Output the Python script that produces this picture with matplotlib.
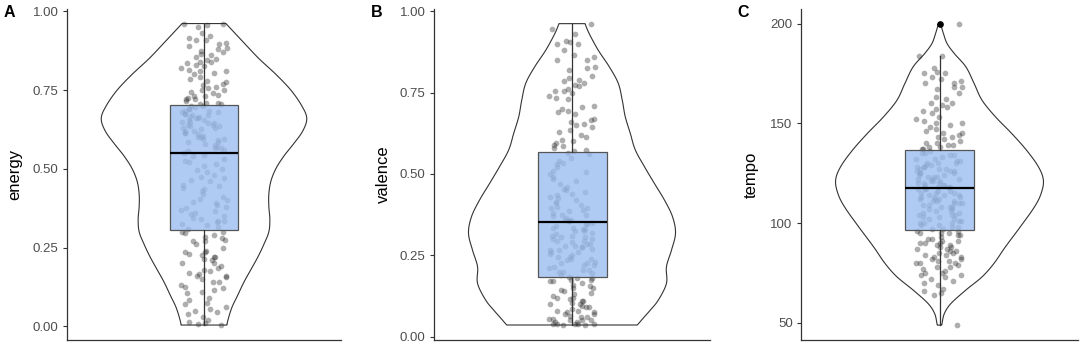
import matplotlib
matplotlib.use('Agg')
import matplotlib.pyplot as plt
import numpy as np

plt.rcParams['font.family'] = ['Liberation Sans', 'DejaVu Sans']

# ---- panel A: energy ----
energy_above = [0.96, 0.96, 0.955, 0.95, 0.93, 0.92, 0.915, 0.91, 0.91, 0.90, 0.895, 0.89,
                0.885, 0.88, 0.875, 0.87, 0.865, 0.86, 0.855, 0.85, 0.845, 0.84, 0.84, 0.835,
                0.83, 0.825, 0.82, 0.815, 0.81, 0.81, 0.805, 0.80, 0.79, 0.785, 0.78, 0.775,
                0.77, 0.765, 0.76, 0.755, 0.75, 0.75, 0.745, 0.74, 0.735, 0.73, 0.73, 0.725,
                0.72, 0.72, 0.715, 0.71, 0.71, 0.705, 0.705]
energy_inside = [0.70, 0.70, 0.695, 0.69, 0.69, 0.685, 0.68, 0.68, 0.675, 0.675, 0.67, 0.67,
                 0.665, 0.66, 0.66, 0.655, 0.655, 0.65, 0.65, 0.645, 0.64, 0.64, 0.635, 0.63,
                 0.63, 0.625, 0.62, 0.62, 0.615, 0.61, 0.605, 0.60, 0.60, 0.595, 0.59, 0.585,
                 0.58, 0.575, 0.57, 0.565, 0.56, 0.555, 0.55, 0.545, 0.54, 0.53, 0.525, 0.52,
                 0.51, 0.50, 0.495, 0.49, 0.48, 0.47, 0.465, 0.46, 0.45, 0.44, 0.435, 0.43,
                 0.42, 0.41, 0.405, 0.40, 0.395, 0.39, 0.38, 0.375, 0.37, 0.365, 0.36, 0.355,
                 0.35, 0.345, 0.34, 0.335, 0.33, 0.325, 0.32, 0.315, 0.31, 0.585, 0.635,
                 0.665, 0.475, 0.385, 0.515, 0.565, 0.615, 0.645, 0.445, 0.335, 0.685, 0.595]
energy_below = [0.30, 0.30, 0.295, 0.29, 0.285, 0.28, 0.275, 0.27, 0.27, 0.26, 0.25, 0.24,
                0.235, 0.235, 0.23, 0.225, 0.22, 0.22, 0.215, 0.21, 0.20, 0.20, 0.19, 0.185,
                0.18, 0.175, 0.17, 0.165, 0.16, 0.16, 0.155, 0.15, 0.14, 0.14, 0.13, 0.125,
                0.12, 0.115, 0.11, 0.105, 0.09, 0.085, 0.075, 0.07, 0.06, 0.055, 0.05, 0.045,
                0.04, 0.03, 0.02, 0.015, 0.01, 0.008, 0.005]
energy_box = [0.005, 0.306, 0.550, 0.702, 0.961]  # whislo, q1, median, q3, whishi
energy_outliers = []
energy_violin_y = [0.004, 0.02, 0.06, 0.10, 0.14, 0.18, 0.22, 0.26, 0.30, 0.34, 0.38, 0.42,
                   0.46, 0.50, 0.54, 0.58, 0.62, 0.66, 0.70, 0.75, 0.80, 0.85, 0.90, 0.961]
energy_violin_d = [23, 24, 28, 34, 40, 47, 54, 60, 65, 66, 65, 65,
                   67, 72, 80, 90, 99, 103, 98, 87, 72, 55, 40, 22]

# ---- panel B: valence ----
valence_above = [0.96, 0.945, 0.93, 0.91, 0.905, 0.90, 0.90, 0.88, 0.865, 0.86, 0.85, 0.85,
                 0.83, 0.825, 0.82, 0.80, 0.795, 0.79, 0.785, 0.78, 0.775, 0.77, 0.76, 0.755,
                 0.755, 0.75, 0.74, 0.735, 0.73, 0.71, 0.705, 0.70, 0.695, 0.69, 0.685, 0.67,
                 0.665, 0.66, 0.655, 0.65, 0.645, 0.635, 0.63, 0.62, 0.615, 0.605, 0.60, 0.595,
                 0.59, 0.585, 0.58, 0.575, 0.57]
valence_inside = [0.565, 0.56, 0.55, 0.54, 0.535, 0.53, 0.52, 0.51, 0.505, 0.50, 0.49, 0.485,
                  0.48, 0.47, 0.46, 0.455, 0.45, 0.44, 0.435, 0.43, 0.425, 0.42, 0.41, 0.405,
                  0.40, 0.395, 0.39, 0.385, 0.38, 0.375, 0.37, 0.365, 0.36, 0.36, 0.355, 0.35,
                  0.345, 0.34, 0.335, 0.33, 0.33, 0.325, 0.32, 0.315, 0.31, 0.31, 0.305, 0.30,
                  0.30, 0.295, 0.29, 0.285, 0.28, 0.28, 0.275, 0.27, 0.265, 0.26, 0.26, 0.255,
                  0.25, 0.245, 0.24, 0.24, 0.235, 0.23, 0.225, 0.22, 0.22, 0.215, 0.21, 0.205,
                  0.20, 0.20, 0.195, 0.19, 0.185, 0.345, 0.305, 0.265, 0.325, 0.285, 0.415,
                  0.375, 0.225, 0.245, 0.355, 0.445, 0.295, 0.205, 0.335, 0.275, 0.395]
valence_below = [0.18, 0.18, 0.175, 0.175, 0.17, 0.17, 0.165, 0.16, 0.155, 0.15, 0.15, 0.145,
                 0.14, 0.135, 0.13, 0.125, 0.12, 0.12, 0.115, 0.11, 0.11, 0.105, 0.10, 0.10,
                 0.095, 0.09, 0.09, 0.085, 0.08, 0.08, 0.075, 0.075, 0.07, 0.07, 0.065, 0.06,
                 0.06, 0.055, 0.055, 0.05, 0.05, 0.05, 0.045, 0.045, 0.04, 0.04, 0.04, 0.04,
                 0.038, 0.037, 0.036]
valence_box = [0.036, 0.184, 0.351, 0.567, 0.962]
valence_outliers = []
valence_violin_y = [0.036, 0.061, 0.082, 0.113, 0.164, 0.215, 0.266, 0.318, 0.369, 0.42,
                    0.471, 0.523, 0.574, 0.625, 0.676, 0.727, 0.779, 0.83, 0.881, 0.932, 0.962]
valence_violin_d = [65, 72, 78, 86, 94, 94, 99, 103, 100, 92,
                    82, 72, 63, 58, 53, 50, 46, 37, 26, 17, 13]

# ---- panel C: tempo ----
tempo_above = [200, 184, 184, 178, 176, 175, 175, 173, 172, 171, 170, 170, 168, 168, 167,
               165, 163, 162, 160, 160, 159, 158, 157, 156, 155, 153, 152, 151, 150, 150,
               149, 148, 147, 146, 145, 145, 144, 143, 143, 142, 141, 140, 140, 139, 139,
               138, 138, 137, 137]
tempo_inside = [136, 135, 134, 133, 132, 131, 130, 130, 129, 128, 128, 127, 126, 126, 125,
                125, 124, 123, 123, 122, 121, 121, 120, 120, 119, 119, 118, 118, 117, 117,
                116, 115, 115, 114, 113, 113, 112, 111, 111, 110, 110, 109, 108, 108, 107,
                106, 105, 105, 104, 103, 102, 101, 100, 100, 99, 98, 97, 97, 134, 131, 129,
                127, 124, 122, 120, 118, 116, 114, 112, 110, 107, 104, 101, 99, 132, 126,
                121, 117, 113, 109, 106, 102, 98, 128, 119, 111, 103, 125, 115, 135, 123,
                108, 100, 130, 112, 118, 104, 122, 114, 127]
tempo_below = [96, 96, 95, 95, 95, 94, 94, 93, 92, 92, 91, 91, 90, 90, 90, 89, 89, 88, 88,
               87, 87, 86, 86, 85, 85, 84, 84, 83, 83, 82, 82, 81, 81, 80, 80, 80, 79, 78,
               78, 77, 76, 75, 75, 74, 74, 73, 72, 71, 70, 69, 67, 66, 65, 64, 49]
tempo_box = [48.8, 96.4, 117.8, 136.5, 184.0]
tempo_outliers = [200]
tempo_violin_y = [48.8, 50, 54.7, 59.7, 66.4, 73, 79.7, 88.1, 98.1, 108.1, 114.8, 121.5,
                  128.2, 136.5, 144.9, 153.2, 161.6, 170, 178.3, 185, 190, 195, 200.4]
tempo_violin_d = [2.3, 2.7, 5, 11.7, 26.7, 43, 55, 66.7, 81.7, 96, 102.7, 105,
                  100, 88, 73, 56.7, 43, 35, 26.7, 15, 7.7, 4, 0.8]

panels = [
    ('A', 'energy', energy_above + energy_inside + energy_below, energy_box, energy_outliers,
     energy_violin_y, energy_violin_d, (-0.0435, 1.0063), [0, 0.25, 0.5, 0.75, 1.0], '%.2f',
     [67, 274], 14.5),
    ('B', 'valence', valence_above + valence_inside + valence_below, valence_box, valence_outliers,
     valence_violin_y, valence_violin_d, (-0.0101, 1.0061), [0, 0.25, 0.5, 0.75, 1.0], '%.2f',
     [434, 276], 383),
    ('C', 'tempo', tempo_above + tempo_inside + tempo_below, tempo_box, tempo_outliers,
     tempo_violin_y, tempo_violin_d, (41.33, 207.2), [50, 100, 150, 200], '%d',
     [801, 277], 751.5),
]

W, H = 1084, 347
LINE = '#333333'


def smooth_profile(y, d, n=16):
    # Catmull-Rom through the read-off violin outline
    pts = np.column_stack([y, d]).astype(float)
    P = np.vstack([pts[0], pts, pts[-1]])
    t = np.linspace(0, 1, n, endpoint=False)[:, None]
    out = []
    for i in range(1, len(P) - 2):
        p0, p1, p2, p3 = P[i - 1], P[i], P[i + 1], P[i + 2]
        seg = 0.5 * (2 * p1 + (-p0 + p2) * t + (2 * p0 - 5 * p1 + 4 * p2 - p3) * t ** 2
                     + (-p0 + 3 * p1 - 3 * p2 + p3) * t ** 3)
        out.append(seg)
    out.append(pts[-1:])
    s = np.vstack(out)
    return s[:, 0], np.clip(s[:, 1], 0, None)


def jitter_offsets(n, width=0.1):
    # deterministic hash-style jitter, only for horizontal spread of the dots
    k = np.arange(n, dtype=float) + 1.0
    u = (np.sin(k * 12.9898) * 43758.5453) % 1.0
    return (u - 0.5) * 2 * width


fig = plt.figure(figsize=(W / 100, H / 100), dpi=100)

for letter, name, values, box, outliers, vy, vd, ylim, ticks, fmt, (left_px, width_px), lab_px in panels:
    ax = fig.add_axes([left_px / W, 7 / H, width_px / W, (340 - 9.3) / H])
    values = np.asarray(values, dtype=float)

    # violin (trimmed to data range, max half-width 0.45)
    sy, sd = smooth_profile(vy, vd)
    hw = 0.45 * sd / np.max(vd)
    xs = np.concatenate([1 + hw, (1 - hw)[::-1]])
    ys = np.concatenate([sy, sy[::-1]])
    ax.fill(xs, ys, facecolor='white', edgecolor=LINE, linewidth=0.8, zorder=1)

    # jittered points
    ax.scatter(1 + jitter_offsets(len(values)), values, s=17, color='#2a2a2a', alpha=0.38,
               linewidths=0, zorder=2)

    # boxplot on top
    stats = [dict(whislo=box[0], q1=box[1], med=box[2], q3=box[3], whishi=box[4],
                  fliers=outliers)]
    ax.bxp(stats, positions=[1], widths=0.3, patch_artist=True, showcaps=False,
           boxprops=dict(facecolor=(0.608, 0.745, 0.941, 0.8), edgecolor='#555555', linewidth=0.9),
           medianprops=dict(color='black', linewidth=1.6),
           whiskerprops=dict(color=LINE, linewidth=0.9),
           flierprops=dict(marker='o', markerfacecolor='black', markeredgecolor='black',
                           markersize=3.8),
           zorder=3)

    ax.set_xlim(0.4, 1.6)
    ax.set_ylim(*ylim)
    ax.set_yticks(ticks)
    ax.set_yticklabels([fmt % t for t in ticks])
    ax.set_xticks([])
    for side in ('top', 'right'):
        ax.spines[side].set_visible(False)
    for side in ('left', 'bottom'):
        ax.spines[side].set_color(LINE)
        ax.spines[side].set_linewidth(0.9)
    ax.tick_params(axis='y', length=3, width=0.8, color=LINE, pad=3,
                   labelsize=9.5, labelcolor='#4d4d4d')

    ax.set_ylabel(name, fontsize=12, color='black', va='center')
    ax.yaxis.set_label_coords((lab_px - left_px) / width_px, 0.5)

    fig.text((left_px - 63.5) / W, 1 - 5 / H, letter, fontsize=11.5, fontweight='bold',
             ha='left', va='top')

fig.savefig('out.png', dpi=100)
